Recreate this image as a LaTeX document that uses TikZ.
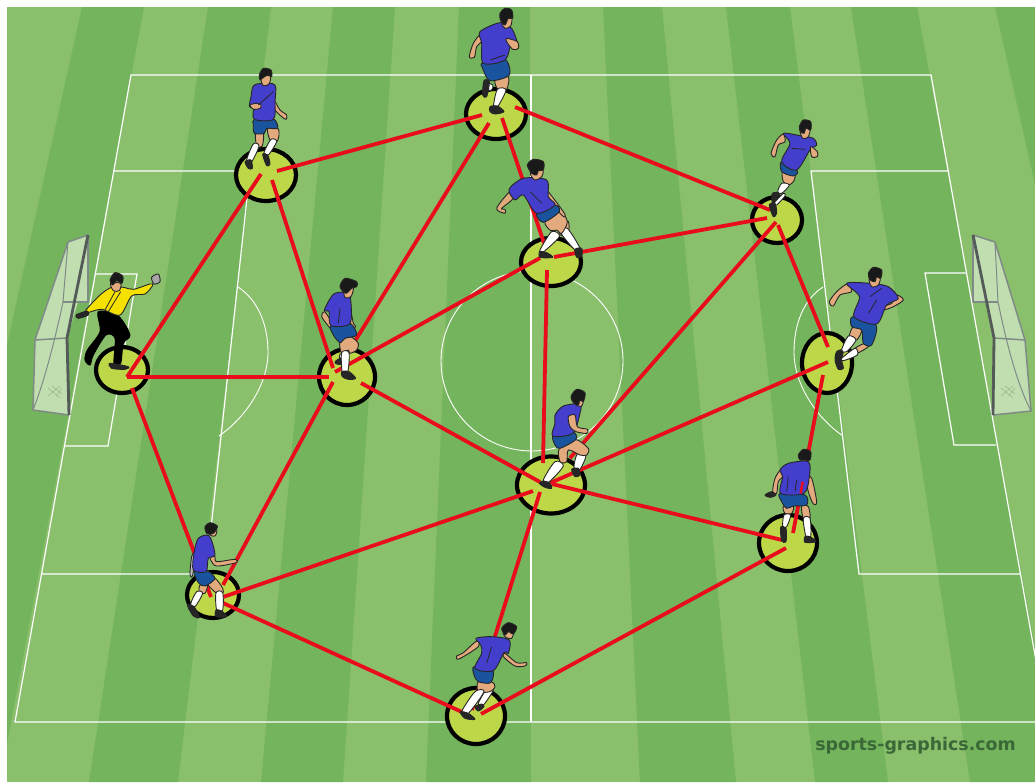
\documentclass[tikz,border=0pt]{standalone}
\usepackage{fontspec}
\setmainfont{DejaVu Sans}
\usetikzlibrary{calc,shapes.geometric}
\definecolor{grassL}{RGB}{138,191,108}
\definecolor{grassD}{RGB}{116,180,92}
\definecolor{hubfill}{RGB}{188,216,72}
\definecolor{linkred}{RGB}{232,12,28}
\definecolor{netfill}{RGB}{192,222,176}
\definecolor{netline}{RGB}{128,138,135}
\definecolor{shirtblue}{RGB}{68,62,205}
\definecolor{shortblue}{RGB}{26,84,158}
\definecolor{skinc}{RGB}{226,170,125}
\definecolor{gkyellow}{RGB}{245,225,0}
\definecolor{wmark}{RGB}{58,104,54}
\tikzset{
 fieldline/.style={white,line width=1.2pt,line join=miter},
 hub/.style={ellipse,draw=black,fill=hubfill,line width=4.2pt,inner sep=0pt},
 linkline/.style={linkred,line width=3.8pt,line cap=butt},
 body/.style={draw=black!85,line width=.9pt,line join=round},
 shirt/.style={body,fill=shirtblue},
 shorts/.style={body,fill=shortblue},
 skin/.style={body,fill=skinc},
 sock/.style={body,fill=white},
 shoe/.style={body,fill=black!85},
 hair/.style={body,fill=black!90},
 jersey/.style={body,fill=gkyellow},
 glove/.style={body,fill=black!35},
 pants/.style={draw=black,fill=black,line width=.9pt},
 fold/.style={black!85,line width=.8pt},
 net/.style={netline,line width=1.5pt,line join=round},
 post/.style={netline!65!black,line width=2.8pt,line join=round},
 mesh/.style={black!20!netfill,line width=.5pt},
 zoomed/.style={shift={#1},scale=.33333}
}
\newcommand{\bit}[2]{\draw[#1] plot[smooth cycle,tension=.5] coordinates {#2};}
\newcommand{\link}[4]{\draw[linkline] ($(#1)+(#2)$) -- ($(#3)+(#4)$);}
\newcommand{\stripe}[5]{\fill[#1] (#2,7) -- (#3,7) -- (#5,782) -- (#4,782) -- cycle;}
\newcommand{\hubnode}[5]{\node[hub,minimum width=#4pt,minimum height=#5pt] (#1) at (#2,#3) {};}
\begin{document}
\begin{tikzpicture}[x=1pt,y=-1pt]
\useasboundingbox (0,0) rectangle (1035,782);
\fill[white] (0,0) rectangle (1035,782);
\begin{scope}
\clip (7,7) rectangle (1035,782);
\fill[grassL] (7,7) rectangle (1035,782);
\stripe{grassD}{82}{144}{-90}{0}
\stripe{grassD}{208}{271}{89}{178}
\stripe{grassD}{333}{395}{261}{343}
\stripe{grassD}{459}{530}{426}{531}
\stripe{grassD}{603}{662}{640}{736}
\stripe{grassD}{726}{790}{815}{888}
\stripe{grassD}{851}{917}{970}{1060}
\stripe{grassD}{995}{1060}{1170}{1250}
% pitch markings
\draw[fieldline] (131,75) -- (931,75) -- (1047,722) -- (15,722) -- cycle;
\draw[fieldline,line width=1.1pt] (531,75) -- (531,722);
\draw[fieldline] (114,171) -- (250,171) -- (206,574) -- (41,574);
\draw[fieldline] (948,171) -- (811,171) -- (859,574) -- (1021,574);
\draw[fieldline] (95,274) -- (137,274) -- (108,446) -- (65,446);
\draw[fieldline] (966,273) -- (925,273) -- (954,445) -- (996,445);
\draw[fieldline,line width=.9pt] (532,361) ellipse (91 and 90);
\draw[fieldline,line width=.9pt] (238,287) .. controls (258,300) and (268,325) .. (268,352) .. controls (268,385) and (245,418) .. (219,436);
\draw[fieldline,line width=.9pt] (823,287) .. controls (803,300) and (794,325) .. (794,352) .. controls (794,385) and (817,418) .. (843,436);
\end{scope}
% left goal
\fill[netfill] (88,235) -- (68,242) -- (35,340) -- (33,410) -- (69,415) -- (67,338) -- (78,302) -- (88,302) -- cycle;
\draw[net] (88,235) -- (88,302) -- (63,302);
\draw[net] (68,242) -- (35,340) -- (33,410) -- (69,415);
\draw[net] (68,242) -- (88,235);
\draw[net,line width=1pt] (68,242) -- (63,302) .. controls (56,335) and (45,380) .. (33,410);
\draw[net] (35,340) -- (67,338);
\draw[post] (88,235) -- (67,338) -- (69,415);
\draw[mesh] (48,388) -- (60,398) (52,386) -- (62,394) (60,386) -- (48,396) (56,396) -- (62,388);
% right goal
\fill[netfill] (973,235) -- (995,242) -- (1025,340) -- (1031,411) -- (993,415) -- (994,338) -- (988,302) -- (973,302) -- cycle;
\draw[net] (973,235) -- (973,302) -- (998,302);
\draw[net] (995,242) -- (1025,340) -- (1031,411) -- (993,415);
\draw[net] (995,242) -- (973,235);
\draw[net,line width=1pt] (995,242) -- (998,302) .. controls (1005,335) and (1015,380) .. (1031,411);
\draw[net] (1025,340) -- (994,338);
\draw[post] (973,235) -- (994,338) -- (993,415);
\draw[mesh] (1001,388) -- (1013,398) (1005,386) -- (1015,394) (1013,386) -- (1001,396) (1009,396) -- (1015,388);
% hubs
\hubnode{p1}{122}{370}{52}{46}
\hubnode{p2}{266}{175}{60}{52}
\hubnode{p3}{347}{377}{56}{56}
\hubnode{p4}{496}{114}{60}{50}
\hubnode{p5}{551}{262}{60}{48}
\hubnode{p6}{777}{220}{50}{46}
\hubnode{p7}{827}{363}{50}{60}
\hubnode{p8}{551}{485}{68}{57}
\hubnode{p9}{788}{543}{58}{56}
\hubnode{p10}{213}{595}{52}{46}
\hubnode{p11}{476}{716}{58}{56}
% links
\link{p1}{5,7}{p2}{-5,-1}
\link{p1}{5,7}{p3}{-18,0}
\link{p1}{10,18}{p10}{-2,2}
\link{p2}{6,5}{p3}{-14,-9}
\link{p2}{11,-4}{p4}{-14,1}
\link{p3}{5,-31}{p4}{-7,9}
\link{p3}{-12,-5}{p5}{-11,-4}
\link{p3}{14,6}{p8}{-11,-3}
\link{p3}{-14,5}{p10}{10,-10}
\link{p4}{6,4}{p5}{-7,-19}
\link{p4}{19,-7}{p6}{-7,-10}
\link{p5}{3,-5}{p6}{-10,-2}
\link{p5}{-4,8}{p8}{-8,-22}
\link{p6}{1,5}{p7}{1,-16}
\link{p6}{-1,2}{p8}{19,-27}
\link{p7}{1,-1}{p8}{-1,-2}
\link{p7}{-4,12}{p9}{5,-10}
\link{p8}{1,-1}{p9}{-6,-3}
\link{p8}{-18,6}{p10}{10,2}
\link{p8}{-11,7}{p11}{-4,-6}
\link{p9}{-2,5}{p11}{5,-2}
\link{p10}{10,8}{p11}{-14,-4}
% goalkeeper
\begin{scope}[zoomed={(0,200)}]
\bit{pants}{(295,335)(355,348)(390,405)(370,430)(362,490)(342,490)(345,415)(318,405)(280,465)(270,495)(255,480)(262,450)(300,395)}
\bit{shoe}{(330,490)(385,500)(375,508)(335,505)}
\bit{jersey}{(335,262)(370,262)(400,268)(450,252)(458,256)(435,282)(395,288)(360,345)(305,328)(262,338)(258,330)(300,285)}
\bit{skin}{(332,250)(362,250)(358,272)(340,272)}
\bit{hair}{(330,240)(345,218)(368,228)(366,250)(350,242)(338,255)}
\bit{glove}{(455,232)(475,222)(480,245)(462,252)}
\bit{shoe}{(228,345)(262,333)(265,345)(235,355)}
\draw[fold] (345,275) -- (315,330) (362,275) -- (325,335);
\end{scope}
% p2 player
\begin{scope}[zoomed={(225,60)}]
\bit{skin}{(92,215)(115,215)(112,258)(95,258)}
\bit{skin}{(128,205)(158,205)(162,225)(155,245)(135,240)}
\bit{sock}{(85,252)(102,258)(80,305)(65,300)}
\bit{sock}{(138,238)(155,245)(130,285)(117,278)}
\bit{shoe}{(60,305)(78,300)(82,325)(70,325)}
\bit{shoe}{(113,283)(128,285)(135,312)(125,317)}
\bit{skin}{(150,125)(165,150)(185,165)(183,178)(170,170)(150,150)(145,130)}
\bit{shorts}{(88,178)(145,176)(158,205)(125,205)(118,220)(88,220)(85,195)}
\bit{shirt}{(85,78)(110,70)(150,75)(150,125)(145,178)(88,178)(85,145)(73,140)(78,110)}
\bit{skin}{(75,135)(95,130)(108,135)(105,145)(85,148)}
\bit{skin}{(108,50)(136,48)(132,72)(114,76)}
\bit{hair}{(103,45)(115,25)(138,30)(140,50)(128,45)(112,55)(105,60)}
\draw[fold] (100,135) -- (145,95);
\end{scope}
% p3 player
\begin{scope}[zoomed={(225,60)}]
\bit{sock}{(345,882)(358,885)(355,905)(345,905)}
\bit{shoe}{(330,905)(350,893)(352,912)(335,912)}
\bit{skin}{(345,845)(375,830)(400,850)(395,870)(375,880)(370,870)(350,880)}
\bit{sock}{(350,878)(372,878)(368,938)(352,938)}
\bit{shoe}{(350,935)(372,935)(392,955)(370,958)(352,950)}
\bit{skin}{(298,755)(290,770)(320,810)(340,825)(345,815)(325,795)(310,770)}
\bit{skin}{(375,740)(385,790)(392,798)(385,805)(375,785)}
\bit{shorts}{(318,797)(375,790)(395,825)(360,835)(345,848)(325,825)}
\bit{shirt}{(325,703)(360,697)(376,712)(375,790)(318,797)(312,755)(298,750)}
\bit{skin}{(358,690)(385,680)(378,710)(360,712)}
\bit{hair}{(345,680)(360,655)(395,665)(395,680)(380,685)(362,700)}
\draw[fold] (345,745) -- (340,790);
\end{scope}
% p4 player
\begin{scope}[zoomed={(440,0)}]
\bit{skin}{(165,240)(205,230)(200,268)(175,270)}
\bit{sock}{(135,248)(158,255)(155,270)(135,268)}
\bit{shoe}{(132,242)(148,245)(140,290)(128,285)}
\bit{sock}{(172,268)(198,270)(172,322)(160,322)}
\bit{shoe}{(150,320)(172,318)(192,335)(165,342)(150,335)}
\bit{skin}{(120,105)(100,130)(88,170)(103,172)(110,140)(125,125)}
\bit{shorts}{(128,188)(195,178)(208,225)(150,242)(128,205)}
\bit{shirt}{(120,95)(180,68)(215,85)(232,130)(215,125)(195,180)(130,190)(125,130)}
\bit{skin}{(200,115)(232,125)(235,145)(218,148)(200,125)}
\bit{skin}{(190,55)(215,50)(212,78)(195,85)(185,70)}
\bit{hair}{(180,40)(195,25)(215,30)(218,55)(205,55)(195,75)(182,62)}
\draw[fold] (150,180) -- (195,165);
\end{scope}
% p5 player
\begin{scope}[zoomed={(480,150)}]
\bit{skin}{(245,215)(265,215)(265,245)(240,255)}
\bit{sock}{(240,245)(262,235)(300,295)(285,300)}
\bit{shoe}{(285,298)(305,295)(305,320)(290,322)}
\bit{skin}{(195,215)(240,185)(262,215)(245,250)(230,240)(212,242)}
\bit{sock}{(215,245)(238,260)(185,310)(180,300)}
\bit{shoe}{(180,305)(200,308)(218,322)(180,322)}
\bit{skin}{(90,125)(50,175)(75,190)(75,178)(65,175)(100,145)}
\bit{skin}{(200,120)(250,185)(255,200)(245,195)(205,150)}
\bit{shorts}{(170,190)(225,165)(238,185)(190,217)}
\bit{shirt}{(87,118)(130,85)(200,90)(205,140)(225,165)(170,190)(130,135)(105,150)}
\bit{skin}{(155,60)(188,60)(185,80)(165,90)(152,75)}
\bit{hair}{(142,45)(160,28)(190,35)(190,60)(175,62)(170,75)(155,70)}
\draw[fold] (150,125) -- (185,160);
\end{scope}
% p6, p7 players
\begin{scope}[zoomed={(740,110)}]
\bit{sock}{(130,250)(135,258)(110,285)(100,282)}
\bit{shoe}{(97,250)(120,250)(98,280)}
\bit{shoe}{(88,285)(105,280)(110,310)(100,320)}
\bit{skin}{(128,185)(165,190)(160,215)(145,225)(130,215)}
\bit{sock}{(125,220)(148,225)(125,250)(113,245)}
\bit{skin}{(130,72)(110,90)(93,130)(105,140)(115,105)(135,95)}
\bit{shorts}{(125,155)(172,183)(160,198)(125,185)}
\bit{shirt}{(130,70)(185,78)(220,85)(230,105)(210,120)(170,180)(125,155)(150,100)}
\bit{skin}{(212,110)(232,125)(232,140)(215,140)}
\bit{skin}{(180,55)(210,50)(205,80)(188,85)}
\bit{hair}{(178,50)(190,30)(212,35)(212,60)(198,55)(192,70)(182,65)}
\draw[fold] (155,115) -- (195,118);
% p7
\bit{shoe}{(290,725)(310,720)(305,750)(310,775)(295,778)(285,750)}
\bit{skin}{(340,650)(365,660)(350,690)(328,680)}
\bit{skin}{(375,700)(385,710)(350,730)(345,715)}
\bit{sock}{(325,678)(348,690)(320,725)(305,720)}
\bit{sock}{(305,745)(345,715)(352,735)(310,752)}
\bit{skin}{(322,522)(290,545)(268,575)(280,588)(300,555)(335,545)}
\bit{skin}{(470,555)(490,570)(460,590)(430,600)(428,590)(455,580)}
\bit{shorts}{(338,620)(408,645)(395,705)(370,700)(365,660)(335,650)}
\bit{shirt}{(320,520)(390,520)(445,530)(475,565)(440,585)(410,642)(342,620)(358,560)}
\bit{skin}{(388,505)(420,500)(415,525)(395,530)}
\bit{hair}{(385,490)(400,472)(425,480)(422,505)(410,500)(405,515)(390,510)}
\draw[fold] (390,560) -- (425,535) (385,610) -- (410,570);
\end{scope}
% p8, p9 players
\begin{scope}[zoomed={(500,380)}]
\bit{sock}{(232,222)(258,225)(240,268)(222,262)}
\bit{shoe}{(215,268)(235,265)(240,285)(225,290)}
\bit{skin}{(178,205)(225,178)(265,205)(260,225)(240,225)(205,210)(200,245)(180,245)}
\bit{sock}{(165,245)(190,258)(148,305)(130,300)}
\bit{shoe}{(118,310)(130,303)(150,310)(155,325)(135,322)}
\bit{shorts}{(160,165)(218,155)(228,178)(180,205)(165,195)}
\bit{shirt}{(165,105)(190,78)(240,72)(240,100)(218,160)(158,168)(165,130)}
\bit{skin}{(205,110)(225,105)(232,140)(262,148)(260,160)(228,155)(210,140)}
\bit{skin}{(225,60)(250,55)(245,78)(228,75)}
\bit{hair}{(213,50)(230,28)(255,38)(250,65)(240,60)(235,75)(222,70)}
% p9
\bit{skin}{(850,380)(880,378)(875,400)(855,400)}
\bit{skin}{(905,378)(925,380)(930,415)(910,415)}
\bit{sock}{(852,405)(872,405)(860,440)(848,440)}
\bit{sock}{(910,415)(930,415)(932,470)(918,470)}
\bit{shoe}{(842,442)(858,445)(858,485)(845,482)}
\bit{shoe}{(915,470)(930,470)(948,485)(915,487)}
\bit{skin}{(842,270)(825,295)(818,335)(830,340)(835,305)(852,285)}
\bit{shoe}{(795,345)(815,335)(828,345)(810,352)}
\bit{skin}{(918,290)(935,295)(950,365)(940,372)(925,335)}
\bit{shorts}{(840,340)(915,345)(920,375)(880,378)(860,385)(845,365)}
\bit{shirt}{(840,270)(865,250)(925,245)(928,290)(912,340)(842,340)(848,290)}
\bit{hair}{(895,225)(910,208)(932,215)(930,240)(915,240)(900,240)}
\draw[linkline,line width=2.5pt] (908,305) -- (902,340);
\draw[fold] (865,290) -- (860,335) (890,300) -- (885,335);
\end{scope}
% p10, p11 players
\begin{scope}[zoomed={(170,510)}]
\bit{skin}{(90,225)(112,225)(105,250)(88,248)}
\bit{sock}{(80,245)(98,250)(75,290)(62,282)}
\bit{shoe}{(52,285)(72,290)(88,322)(70,318)}
\bit{skin}{(112,220)(135,205)(158,235)(158,250)(140,250)}
\bit{sock}{(138,248)(158,248)(158,300)(140,300)}
\bit{shoe}{(138,300)(155,303)(170,320)(138,320)}
\bit{skin}{(120,135)(135,140)(140,155)(195,148)(198,158)(140,168)(122,150)}
\bit{body,fill=black!25}{(65,140)(75,130)(68,195)(60,195)}
\bit{shorts}{(72,182)(108,180)(135,205)(105,228)(85,218)}
\bit{shirt}{(85,85)(118,78)(135,135)(115,145)(108,185)(70,180)(72,130)}
\bit{skin}{(115,60)(140,60)(135,78)(120,75)}
\bit{hair}{(105,50)(120,38)(142,48)(135,65)(125,72)(110,70)}
% p11
\bit{sock}{(955,530)(970,540)(940,585)(925,580)}
\bit{shoe}{(915,590)(935,582)(942,590)(925,603)}
\bit{skin}{(925,515)(965,515)(975,530)(960,545)(925,545)}
\bit{sock}{(915,545)(942,545)(895,610)(875,605)}
\bit{shoe}{(870,605)(895,610)(915,628)(885,625)}
\bit{skin}{(920,393)(880,428)(860,438)(862,448)(880,440)(925,410)}
\bit{skin}{(1005,430)(1040,458)(1070,458)(1065,468)(1035,468)(1000,440)}
\bit{shorts}{(912,470)(968,480)(962,518)(925,515)(912,495)}
\bit{shirt}{(918,385)(965,380)(1018,390)(1015,430)(1002,428)(970,482)(915,475)(935,430)(932,405)}
\bit{skin}{(1000,360)(1030,360)(1025,385)(1005,380)}
\bit{hair}{(995,355)(1015,338)(1040,350)(1030,372)(1015,365)(1005,375)}
\draw[fold] (965,410) -- (950,460);
\end{scope}
\node[anchor=east,inner sep=0pt,text=wmark,font=\fontsize{17.4}{18}\selectfont\bfseries] (mark) at (1016,746) {sports-graphics.com};
\end{tikzpicture}
\end{document}
